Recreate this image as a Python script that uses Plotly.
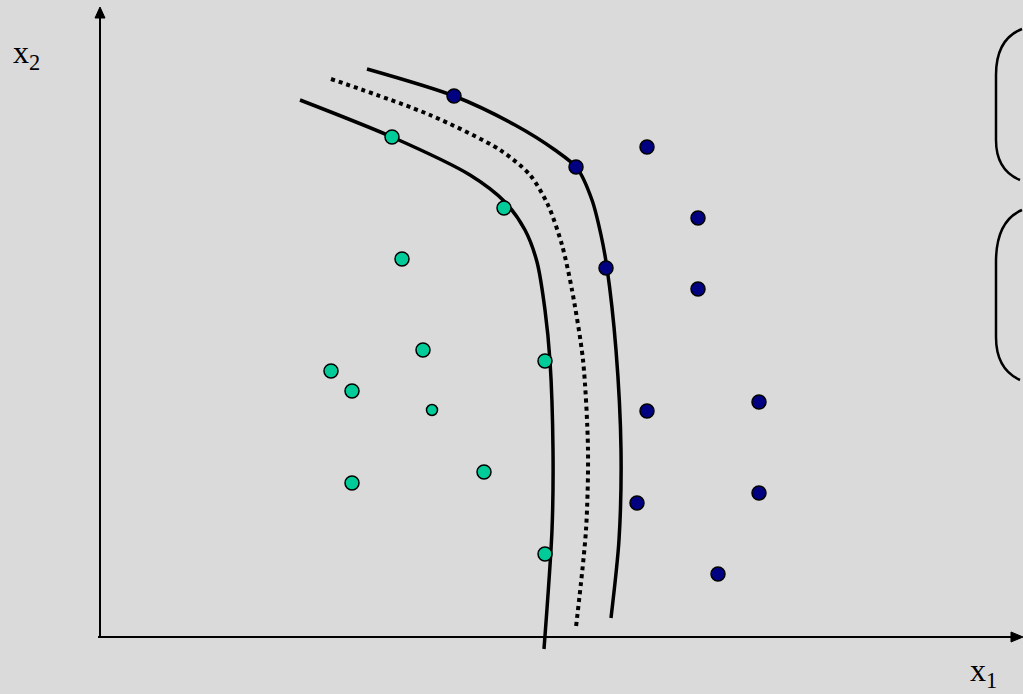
import plotly.graph_objects as go

# Two classes of samples in the (x1, x2) feature plane
class_a_x1 = [292, 404, 302, 323, 231, 252, 332, 445, 384, 252, 445]
class_a_x2 = [500, 429, 378, 287, 266, 246, 227, 276, 165, 154, 83]
class_a_size = [14, 14, 14, 14, 14, 14, 11, 14, 14, 14, 14]

class_b_x1 = [354, 476, 547, 598, 506, 598, 547, 659, 537, 659, 618]
class_b_x2 = [541, 470, 490, 419, 369, 348, 226, 235, 134, 144, 63]

# Margin boundaries (solid) and decision boundary (dotted)
margin_a_x1 = [200, 292, 370, 405, 425, 437, 445, 450, 453, 452, 444]
margin_a_x2 = [537, 500, 462, 435, 407, 375, 327, 276, 187, 107, -12]

margin_b_x1 = [267, 354, 415, 455, 477, 492, 501, 507, 516, 521, 519, 511]
margin_b_x2 = [568, 541, 512, 487, 469, 437, 402, 369, 287, 187, 97, 19]

decision_x1 = [231, 330, 400, 430, 448, 462, 472, 483, 488, 486, 476]
decision_x2 = [558, 522, 487, 462, 432, 392, 347, 277, 187, 107, 10]

BG = "#dadada"
GREEN = "#00cc99"
BLUE = "#000080"

fig = go.Figure()

for xs, ys in [(margin_a_x1, margin_a_x2), (margin_b_x1, margin_b_x2)]:
    fig.add_trace(go.Scatter(x=xs, y=ys, mode="lines",
                             line=dict(color="black", width=3.5, shape="spline", smoothing=0.8),
                             hoverinfo="skip"))

fig.add_trace(go.Scatter(x=decision_x1, y=decision_x2, mode="lines",
                         line=dict(color="black", width=4, dash="4px,4px", shape="spline", smoothing=0.8),
                         hoverinfo="skip"))

fig.add_trace(go.Scatter(x=class_a_x1, y=class_a_x2, mode="markers",
                         marker=dict(color=GREEN, size=class_a_size, opacity=1,
                                     line=dict(color="black", width=1.5))))
fig.add_trace(go.Scatter(x=class_b_x1, y=class_b_x2, mode="markers",
                         marker=dict(color=BLUE, size=14, opacity=1,
                                     line=dict(color="black", width=1.5))))

shapes = [
    # coordinate axes
    dict(type="line", x0=0, y0=0, x1=0, y1=620, line=dict(color="black", width=2)),
    dict(type="line", x0=-2, y0=0, x1=912, y1=0, line=dict(color="black", width=2)),
    # arrow heads
    dict(type="path", path="M -5,619 L 5,619 L 0,630 Z", fillcolor="black",
         line=dict(color="black", width=1)),
    dict(type="path", path="M 911,5 L 911,-5 L 923,0 Z", fillcolor="black",
         line=dict(color="black", width=1)),
    # brackets at the right edge
    dict(type="path", path="M 922,608 Q 896,598 896,562 L 896,497 Q 896,467 920,457",
         line=dict(color="black", width=2.5)),
    dict(type="path", path="M 922,427 Q 896,416 896,375 L 896,300 Q 896,268 920,257",
         line=dict(color="black", width=2.5)),
]

annotations = [
    dict(x=-89, y=560, text="x<sub>2</sub>", showarrow=False, xanchor="left", yanchor="bottom",
         font=dict(family="Liberation Serif", size=32, color="black")),
    dict(x=868, y=-50, yshift=-8, text="x<sub>1</sub>", showarrow=False, xanchor="left",
         yanchor="bottom", font=dict(family="Liberation Serif", size=32, color="black")),
]

fig.update_layout(
    width=1023, height=694,
    margin=dict(l=0, r=0, t=0, b=0),
    paper_bgcolor=BG, plot_bgcolor=BG,
    showlegend=False,
    shapes=shapes,
    annotations=annotations,
    xaxis=dict(range=[-100, 923], visible=False, fixedrange=True),
    yaxis=dict(range=[-57, 637], visible=False, fixedrange=True),
)

fig.write_html("out.html")
